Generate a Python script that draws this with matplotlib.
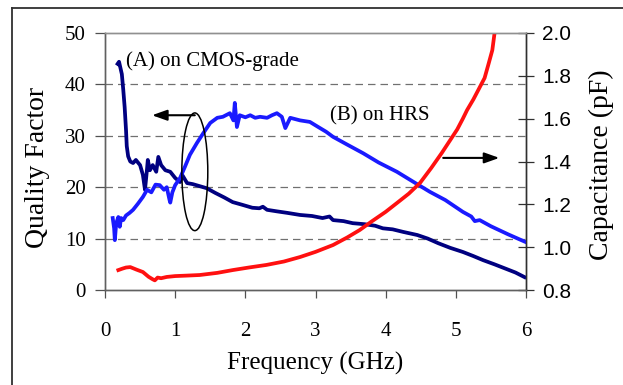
import matplotlib
matplotlib.use("Agg")
import matplotlib.pyplot as plt
from matplotlib.patches import Ellipse
from matplotlib.lines import Line2D

# (A) on CMOS-grade substrate: quality factor
freq_a = [0.18, 0.20, 0.24, 0.26, 0.28, 0.30, 0.31, 0.33, 0.36, 0.40, 0.44, 0.47, 0.50, 0.54,
          0.57, 0.60, 0.61, 0.64, 0.68, 0.73, 0.76, 0.80, 0.86, 0.93, 1.00, 1.07, 1.10, 1.17,
          1.25, 1.35, 1.45, 1.57, 1.70, 1.82, 1.95, 2.10, 2.20, 2.25, 2.31, 2.45, 2.60, 2.78,
          2.95, 3.10, 3.20, 3.25, 3.40, 3.53, 3.70, 3.85, 3.96, 4.10, 4.25, 4.45, 4.60, 4.75,
          4.92, 5.10, 5.25, 5.39, 5.55, 5.70, 5.85, 5.98]
q_a = [44.0, 44.4, 42.0, 39.0, 35.6, 31.0, 28.0, 26.0, 25.0, 24.7, 25.3, 24.8, 24.3, 22.4,
       19.5, 23.7, 25.3, 23.3, 24.3, 23.0, 25.9, 24.3, 23.3, 23.0, 21.8, 21.0, 22.4, 20.8,
       20.6, 20.2, 19.8, 18.9, 18.0, 17.1, 16.6, 16.0, 15.9, 16.2, 15.6, 15.3, 15.0, 14.6,
       14.4, 14.0, 14.3, 13.6, 13.4, 13.0, 12.8, 12.5, 12.0, 11.8, 11.3, 10.7, 10.0, 9.1,
       8.2, 7.4, 6.6, 5.8, 5.0, 4.2, 3.4, 2.5]

# (B) on HRS: quality factor
freq_b = [0.11, 0.13, 0.14, 0.16, 0.19, 0.21, 0.23, 0.26, 0.30, 0.35, 0.40, 0.47, 0.54, 0.60,
          0.66, 0.72, 0.78, 0.84, 0.88, 0.92, 0.93, 0.96, 1.00, 1.07, 1.14, 1.21, 1.31, 1.40,
          1.50, 1.60, 1.68, 1.78, 1.83, 1.85, 1.88, 1.92, 2.00, 2.07, 2.14, 2.21, 2.31, 2.38,
          2.45, 2.52, 2.57, 2.64, 2.78, 2.92, 3.04, 3.15, 3.25, 3.45, 3.68, 3.90, 4.16, 4.40,
          4.63, 4.85, 5.10, 5.22, 5.27, 5.34, 5.50, 5.75, 6.00]
q_b = [14.0, 12.0, 9.7, 13.0, 14.2, 12.3, 14.0, 13.6, 14.5, 15.0, 15.6, 16.8, 18.1, 19.5,
       19.0, 20.5, 20.4, 19.5, 20.0, 17.5, 17.0, 19.0, 20.4, 21.8, 24.0, 26.3, 28.6, 30.5,
       32.5, 33.5, 33.7, 34.4, 33.0, 36.4, 31.7, 34.0, 33.6, 34.0, 33.5, 33.7, 33.5, 34.0,
       34.4, 33.7, 31.5, 33.5, 33.0, 32.7, 31.7, 30.8, 29.8, 28.3, 26.6, 24.8, 23.0, 21.0,
       19.1, 17.5, 15.2, 14.3, 13.4, 13.6, 12.4, 10.8, 9.3]

# capacitance (pF)
freq_c = [0.19, 0.25, 0.30, 0.36, 0.45, 0.54, 0.62, 0.68, 0.71, 0.75, 0.80, 0.88, 1.00, 1.15,
          1.35, 1.60, 1.82, 2.05, 2.30, 2.55, 2.78, 3.00, 3.25, 3.45, 3.63, 3.80, 4.00, 4.16,
          4.33, 4.49, 4.65, 4.80, 4.92, 5.02, 5.10, 5.16, 5.25, 5.33, 5.41, 5.47, 5.52, 5.56]
cap = [0.893, 0.900, 0.905, 0.907, 0.895, 0.884, 0.862, 0.850, 0.845, 0.858, 0.855, 0.861,
       0.865, 0.867, 0.870, 0.880, 0.893, 0.905, 0.917, 0.933, 0.954, 0.978, 1.01, 1.045,
       1.08, 1.12, 1.165, 1.206, 1.25, 1.30, 1.37, 1.44, 1.50, 1.55, 1.60, 1.64, 1.69,
       1.74, 1.79, 1.86, 1.92, 2.02]

x_ticks = [0, 1, 2, 3, 4, 5, 6]
q_ticks = [0, 10, 20, 30, 40, 50]
c_ticks = [0.8, 1.0, 1.2, 1.4, 1.6, 1.8, 2.0]

serif = "Liberation Serif"
sans = "Liberation Sans"

fig = plt.figure(figsize=(6.23, 3.85), dpi=100)
ax = fig.add_axes([105 / 623, 1 - 290 / 385, 421 / 623, 257 / 385])
ax2 = ax.twinx()

ax.plot(freq_a, q_a, color="#000080", lw=2.7, zorder=3)
ax.plot(freq_b, q_b, color="#1a1aff", lw=2.7, zorder=3)
ax2.plot(freq_c, cap, color="#ff1010", lw=2.7)

ax.set_xlim(0, 6)
ax.set_ylim(0, 50)
ax2.set_ylim(0.8, 2.0)
ax.set_xticks(x_ticks)
ax.set_yticks(q_ticks)
ax2.set_yticks(c_ticks)
ax.set_xticklabels([str(t) for t in x_ticks], fontfamily=serif, fontsize=15)
ax.set_yticklabels([str(t) for t in q_ticks], fontfamily=serif, fontsize=15)
ax2.set_yticklabels([f"{t:.1f}" for t in c_ticks], fontfamily=sans, fontsize=15)

ax.grid(axis="y", color="#707070", linestyle=(0, (6, 4)), lw=0.9)
gl = ax.get_ygridlines()
gl[0].set_visible(False)
gl[-1].set_visible(False)

ax.tick_params(axis="y", direction="out", length=7, width=0.9, pad=7, colors="#505050",
               labelcolor="black")
ax.tick_params(axis="x", direction="out", length=6, width=0.9, pad=17, colors="#505050",
               labelcolor="black")
ax2.tick_params(axis="y", direction="inout", length=11, width=0.9, pad=6, colors="#303030",
                labelcolor="black")

for a in (ax, ax2):
    a.spines["top"].set_color("#909090")
    a.spines["left"].set_color("#606060")
    a.spines["bottom"].set_color("#606060")
    a.spines["right"].set_color("#303030")
    for s in a.spines.values():
        s.set_linewidth(1.0)

# axis titles placed by pixel centre as in the reference
fig.text(315 / 623, 1 - 363 / 385, "Frequency (GHz)", fontfamily=serif, fontsize=18,
         ha="center", va="center")
fig.text(38 / 623, 1 - 167 / 385, "Quality Factor", fontfamily=serif, fontsize=20,
         rotation=90, ha="center", va="center")
fig.text(601 / 623, 1 - 165 / 385, "Capacitance (pF)", fontfamily=serif, fontsize=20,
         rotation=90, ha="center", va="center")

ax.text(0.30, 44.6, "(A) on CMOS-grade", fontfamily=serif, fontsize=15, va="center")
ax.text(3.21, 33.9, "(B) on HRS", fontfamily=serif, fontsize=15, va="center")

ax.add_patch(Ellipse((1.28, 23.0), 0.37, 22.9, fill=False, ec="black", lw=1.1, zorder=4))
arrow = dict(arrowstyle="-|>,head_length=0.9,head_width=0.32", color="black", lw=1.5,
             shrinkA=0, shrinkB=0)
ax.annotate("", xy=(0.67, 34.0), xytext=(1.28, 34.0), arrowprops=arrow)
ax.annotate("", xy=(5.62, 25.7), xytext=(4.82, 25.7), arrowprops=arrow)

# outer frame (left and top edges visible)
fx, fy = 12 / 623, 1 - 8 / 385
fig.add_artist(Line2D([fx, fx], [0, fy], transform=fig.transFigure, color="#303030", lw=1.3))
fig.add_artist(Line2D([fx, 1], [fy, fy], transform=fig.transFigure, color="#303030", lw=1.3))

fig.savefig("out.png", dpi=100)
